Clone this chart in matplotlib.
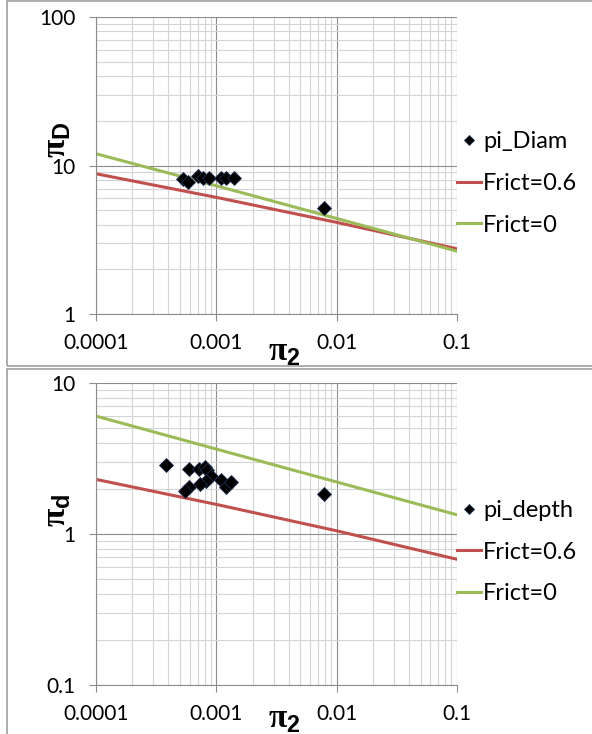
import matplotlib
matplotlib.use("Agg")
import matplotlib.pyplot as plt
from matplotlib.patches import Rectangle
from matplotlib.ticker import LogLocator, FixedLocator, NullFormatter

plt.rcParams['font.family'] = ['Lato', 'DejaVu Sans']
plt.rcParams['mathtext.fontset'] = 'custom'
plt.rcParams['mathtext.rm'] = 'Liberation Serif:bold'
plt.rcParams['mathtext.bf'] = 'Liberation Sans:bold'

# top chart: pi_Diam
diam_x = [0.00053, 0.00058, 0.00071, 0.00078, 0.00087, 0.0011, 0.00121, 0.00139, 0.0079]
diam_y = [8.1, 7.7, 8.5, 8.2, 8.3, 8.3, 8.3, 8.3, 5.15]
line_x = [0.0001, 0.001, 0.01, 0.1]
diam_frict06 = [8.8, 6.1, 4.14, 2.75]
diam_frict0 = [12.0, 7.3, 4.4, 2.65]

# bottom chart: pi_depth
depth_x = [0.000382, 0.000597, 0.000714, 0.000811, 0.000832, 0.000904, 0.00082,
           0.000732, 0.00109, 0.0012, 0.00132, 0.00059, 0.00055, 0.0079]
depth_y = [2.86, 2.68, 2.68, 2.79, 2.65, 2.42, 2.24, 2.13, 2.28, 2.04, 2.22, 2.04, 1.94, 1.84]
depth_frict06 = [2.30, 1.57, 1.05, 0.68]
depth_frict0 = [6.04, 3.65, 2.21, 1.34]

RED = '#C0504D'
GREEN = '#9BBB59'

fig = plt.figure(figsize=(5.92, 7.34), dpi=100)

# chart area borders
fig.patches.append(Rectangle((7 / 592, 1 - 366 / 734), 0.99, 365 / 734, transform=fig.transFigure,
                             fill=False, edgecolor='#a0a0a0', lw=1.2))
fig.patches.append(Rectangle((7 / 592, -0.01), 0.99, 1 - 369 / 734 + 0.01, transform=fig.transFigure,
                             fill=False, edgecolor='#a0a0a0', lw=1.2))


def setup(ax, ylim, yticks, ylabels):
    ax.set_xscale('log')
    ax.set_yscale('log')
    ax.set_xlim(0.0001, 0.1)
    ax.set_ylim(*ylim)
    ax.xaxis.set_major_locator(FixedLocator(line_x))
    ax.set_xticklabels(['0.0001', '0.001', '0.01', '0.1'])
    ax.yaxis.set_major_locator(FixedLocator(yticks))
    ax.set_yticklabels(ylabels)
    ax.xaxis.set_minor_locator(LogLocator(base=10, subs=range(2, 10)))
    ax.yaxis.set_minor_locator(LogLocator(base=10, subs=range(2, 10)))
    ax.xaxis.set_minor_formatter(NullFormatter())
    ax.yaxis.set_minor_formatter(NullFormatter())
    ax.grid(True, which='major', color='#8c8c8c', lw=0.8)
    ax.grid(True, which='minor', color='#d4d4d4', lw=0.8)
    ax.set_axisbelow(True)
    for s in ax.spines.values():
        s.set_visible(False)
    ax.spines['left'].set_visible(True)
    ax.spines['bottom'].set_visible(True)
    ax.spines['left'].set_color('#8c8c8c')
    ax.spines['bottom'].set_color('#8c8c8c')
    ax.tick_params(which='major', length=5, color='#8c8c8c', labelsize=15, pad=10)
    ax.tick_params(axis='x', which='major', pad=9)
    ax.tick_params(which='minor', length=0)


def add_legend(ax):
    h, l = ax.get_legend_handles_labels()
    ax.legend([h[2], h[0], h[1]], [l[2], l[0], l[1]], loc='center left',
              bbox_to_anchor=(1.0, 0.44), frameon=False, fontsize=17,
              handlelength=1.0, handletextpad=0.1, labelspacing=0.88,
              borderaxespad=0, borderpad=0, markerscale=0.8)


ax1 = fig.add_axes([96 / 592, 1 - 314 / 734, 361 / 592, 297 / 734])
ax1.plot(line_x, diam_frict06, color=RED, lw=2.2, label='Frict=0.6', zorder=2)
ax1.plot(line_x, diam_frict0, color=GREEN, lw=2.2, label='Frict=0', zorder=2)
ax1.plot(diam_x, diam_y, 'D', color='black', mec='#1f3050', mew=0.6, ms=7,
         label='pi_Diam', zorder=3)
setup(ax1, (1, 100), [1, 10, 100], ['1', '10', '100'])
ax1.text(-0.105, 0.586, r'$\mathrm{\pi}_\mathbf{D}$', transform=ax1.transAxes, rotation=90,
         ha='center', va='center', fontsize=24)
ax1.text(0.521, -0.13, r'$\mathrm{\pi}_\mathbf{2}$', transform=ax1.transAxes,
         ha='center', va='center', fontsize=24)
add_legend(ax1)

ax2 = fig.add_axes([96 / 592, 1 - 685 / 734, 361 / 592, 302 / 734])
ax2.plot(line_x, depth_frict06, color=RED, lw=2.2, label='Frict=0.6', zorder=2)
ax2.plot(line_x, depth_frict0, color=GREEN, lw=2.2, label='Frict=0', zorder=2)
ax2.plot(depth_x, depth_y, 'D', color='black', mec='#1f3050', mew=0.6, ms=7,
         label='pi_depth', zorder=3)
setup(ax2, (0.1, 10), [0.1, 1, 10], ['0.1', '1', '10'])
ax2.text(-0.105, 0.58, r'$\mathrm{\pi}_\mathbf{d}$', transform=ax2.transAxes, rotation=90,
         ha='center', va='center', fontsize=24)
ax2.text(0.521, -0.116, r'$\mathrm{\pi}_\mathbf{2}$', transform=ax2.transAxes,
         ha='center', va='center', fontsize=24)
add_legend(ax2)

fig.savefig('out.png', dpi=100)
